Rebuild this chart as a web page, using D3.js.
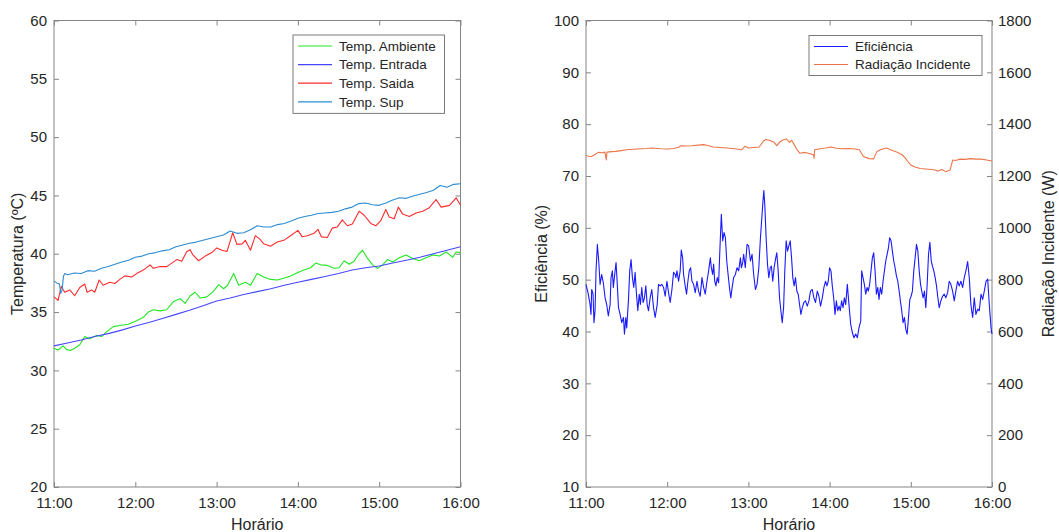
<!DOCTYPE html>
<html>
<head>
<meta charset="utf-8">
<script src="https://cdn.jsdelivr.net/npm/d3@7"></script>
<style>
  body { margin: 0; background: #fff; }
  svg { display: block; }
</style>
</head>
<body>
<svg id="chart" width="1059" height="532"></svg>
<script>
// ---- data: time in minutes after 11:00 ----
const hourMinutes = [0, 60, 120, 180, 240, 300];
const hourLabels = ["11:00", "12:00", "13:00", "14:00", "15:00", "16:00"];
const tempTicks = [20, 25, 30, 35, 40, 45, 50, 55, 60];
const effTicks = [10, 20, 30, 40, 50, 60, 70, 80, 90, 100];
const radTicks = [0, 200, 400, 600, 800, 1000, 1200, 1400, 1600, 1800];

const tempSeriesNames = ["Temp. Ambiente", "Temp. Entrada", "Temp. Saida", "Temp. Sup"];
const rightSeriesNames = ["Eficiência", "Radiação Incidente"];

// Temp. Ambiente (°C)
const tempAmbiente = [
  [0,31.9],[3,31.75],[6.7,32.1],[9.1,31.8],[12.1,31.7],[15.3,31.9],[19,32.2],[22.7,32.9],
  [26.4,32.7],[31.4,33.0],[35.1,32.9],[38.8,33.3],[43.7,33.75],[48.6,33.85],[54.8,33.95],
  [61,34.25],[65.9,34.55],[69.6,35.0],[73.3,35.2],[78.3,35.1],[83.2,35.2],[88.1,35.9],
  [93.1,36.15],[96.8,35.75],[100.5,36.4],[104.2,36.7],[107.9,36.2],[112.8,36.3],[117.8,36.8],
  [121.5,37.35],[125.2,37.0],[128.1,37.3],[132.6,38.3],[136.3,37.3],[141.2,37.55],[145,37.3],
  [149.9,38.3],[154.8,38.0],[159.8,37.8],[164.7,37.75],[169.6,37.9],[174.6,38.1],[180,38.4],
  [184.4,38.6],[189.4,38.8],[193.1,39.2],[196.8,39.05],[201.7,39.0],[206.7,38.75],[210.4,38.8],
  [214.1,39.4],[217.8,39.1],[221.5,39.35],[224.4,39.9],[227.7,40.3],[231.4,39.6],[235.1,39.05],
  [238.8,38.75],[242.5,39.05],[246.2,39.5],[249.9,39.3],[254.8,39.65],[259.8,39.9],[264.7,39.6],
  [269.6,39.4],[274.6,39.65],[279.5,39.9],[284.4,39.8],[289.4,40.15],[294.3,39.7],[296.8,40.15],
  [300,40.1]
];

// Temp. Entrada (°C)
const tempEntrada = [
  [0,32.1],[10,32.35],[20,32.6],[30,32.9],[40,33.15],[50,33.45],[60,33.8],[70,34.1],
  [80,34.45],[90,34.8],[100,35.15],[110,35.55],[120,35.95],[130,36.2],[140,36.5],[150,36.75],
  [160,37.0],[170,37.3],[180,37.55],[190,37.8],[200,38.05],[210,38.3],[220,38.6],[230,38.8],
  [240,38.95],[250,39.2],[260,39.45],[270,39.7],[280,40.0],[290,40.3],[300,40.6]
];

// Temp. Saida (°C)
const tempSaida = [
  [0,36.3],[3,36.0],[5.4,37.2],[7.9,36.7],[11.6,36.9],[15.3,36.4],[19,37.1],[22.7,37.4],
  [24.4,36.7],[27.7,36.9],[30.1,36.7],[33.3,37.75],[36.3,37.3],[41.2,37.55],[44.9,37.45],
  [48.6,37.8],[52.3,38.1],[57.3,38.0],[61,38.3],[65.9,38.6],[70.9,39.05],[73.3,38.75],
  [78.3,38.9],[83.2,38.9],[86.9,39.2],[90.6,39.5],[94.3,39.35],[98,40.2],[100.5,40.35],
  [102.5,39.9],[106.7,39.4],[111.6,39.8],[116.5,40.1],[120.2,40.5],[124,40.3],[127.7,40.2],
  [131.9,41.8],[135,40.8],[138.8,40.85],[141.2,41.15],[145,40.3],[148.6,41.55],[151.9,41.25],
  [154.8,40.85],[159.8,40.65],[164.7,41.0],[169.6,41.15],[174.6,41.55],[180,42.0],[183.2,41.45],
  [186.9,41.55],[191.9,41.75],[194.8,42.1],[197.3,41.45],[201.7,41.4],[205.4,42.2],[209.1,42.3],
  [212.8,42.9],[216.5,42.4],[220.2,42.55],[225.2,43.65],[228.9,43.3],[233.8,42.6],[237.5,42.4],
  [241.2,42.85],[244.9,43.8],[247.4,43.15],[251.1,43.0],[254.1,44.0],[257.3,43.4],[262.2,43.2],
  [267.2,43.5],[272.1,43.65],[277,43.95],[282,44.65],[285.7,44.0],[291.9,44.15],[296.8,44.8],
  [300,44.15]
];

// Temp. Sup (°C)
const tempSup = [
  [0,37.65],[2,37.5],[4,37.4],[5,36.6],[6,36.9],[7,38.1],[8,38.3],[10,38.2],[15,38.35],
  [20,38.3],[25,38.55],[30,38.5],[35,38.75],[40,38.9],[45,39.1],[50,39.3],[55,39.45],
  [60,39.7],[65,39.8],[70,40.0],[75,40.1],[80,40.25],[85,40.35],[90,40.6],[95,40.75],
  [100,40.9],[105,41.0],[110,41.15],[115,41.3],[120,41.45],[125,41.6],[130,41.95],[135,41.75],
  [140,41.8],[145,42.05],[150,42.4],[155,42.3],[160,42.3],[165,42.5],[170,42.6],[175,42.8],
  [180,43.05],[185,43.2],[190,43.3],[195,43.45],[200,43.5],[205,43.55],[210,43.65],[215,43.85],
  [220,44.0],[225,44.3],[230,44.35],[235,44.2],[240,44.15],[245,44.35],[250,44.6],[255,44.8],
  [260,44.75],[265,44.95],[270,45.1],[275,45.25],[280,45.45],[285,45.85],[290,45.7],[295,45.95],
  [300,46.0]
];

// Eficiência (%)
const eficiencia = [
  [0,49.1],[1.7,47.2],[3,45.2],[3.7,43.3],[4.2,48.1],[5.2,47.3],[5.9,41.7],[6.7,44],[7.4,51.7],
  [8.4,56.8],[9.4,53.6],[10.4,49.1],[11.6,51],[12.8,49.4],[14.1,46.5],[15.3,45.2],[16.5,43],
  [17.8,45.2],[18.5,50.4],[19.5,51.7],[20.2,48.5],[21.5,51.7],[22.2,53.3],[23,49.7],[24,44.6],
  [25.2,43.3],[26.4,41.7],[27.7,42.7],[28.4,39.5],[29.4,42.7],[30.1,40.7],[31.4,46.2],[32.3,51.7],
  [33.3,53.9],[34.3,50.4],[35.3,48.5],[36.3,51.4],[37.3,47.2],[38.3,44],[39.3,47.2],[40.2,45.2],
  [41.2,48.5],[42.2,45.6],[43.2,46.5],[44.2,48.8],[45.2,45.2],[46.2,44],[47.4,46.5],[48.6,48.1],
  [49.9,44.6],[51.1,42.7],[52.6,45.2],[53.6,49.1],[54.8,48.8],[56,49.1],[57.3,48.5],[58.5,46.8],
  [59.8,49.7],[61,47.5],[62.2,45.6],[63.5,48.1],[64.7,51.4],[65.9,51],[66.4,50.4],[67.2,51.7],
  [68.4,49.7],[69.6,51.7],[70.4,55.7],[71.4,54.2],[72.1,51],[73.3,48.8],[74.3,47.2],[75.3,49.7],
  [76.3,51.7],[77.3,52.3],[78.3,49.7],[79.5,49.1],[80.7,47.5],[82,49.7],[83.2,47.8],[84.4,46.8],
  [85.7,50.4],[86.9,48.5],[88.1,47.2],[89.4,49.7],[90.6,51.7],[91.9,54.2],[92.6,52.3],[93.6,51],
  [94.3,53],[95.1,49.7],[96,48.8],[97,50.4],[98,49.4],[99,56.2],[100,62.6],[101,57.5],[102,59.1],
  [103,58.1],[104,53.6],[105,51],[106,48.5],[107,46.5],[108,48.5],[109.1,50.4],[110.4,51],
  [111.6,52.3],[112.8,51.7],[114.1,54.2],[114.8,52.3],[115.8,53.3],[116.5,54.9],[117.7,52.3],
  [119,56.8],[120.2,56.5],[121.5,53.6],[122.7,54.9],[123.9,51],[125.2,48.1],[126.4,49.1],
  [127.7,52.3],[128.9,58.1],[129.6,60.7],[130.6,64.5],[131.4,67.2],[132.1,64.5],[133.1,58.1],
  [134.1,53],[135.1,50.4],[136.1,52.3],[137,52.6],[138,49.7],[139,52.3],[140,53.9],[141,55.2],
  [142,51.7],[143,46.5],[144,44],[145,41.7],[146,44.6],[146.9,51.7],[147.9,57.5],[148.9,55.5],
  [149.9,56.5],[150.9,57.5],[151.9,54.2],[152.8,50.4],[153.8,48.8],[154.8,50.4],[155.8,47.8],
  [156.8,47.2],[157.8,45.2],[158.8,43.3],[159.8,44.6],[161,45.6],[162.2,45.9],[163.5,44.9],
  [164.7,45.9],[165.9,47.8],[167.2,48.1],[168.4,46.5],[169.6,45.6],[170.9,47.8],[172.1,46.8],
  [173.3,44.9],[174.6,46.5],[175.8,48.5],[177,49.7],[178,48.8],[179,49.7],[180,52.3],[181,51.7],
  [182,48.8],[183,46.5],[184,43.3],[185,45.9],[186,44],[187,44.9],[187.9,44],[188.9,45.9],
  [189.9,44.6],[190.9,46.5],[191.9,45.2],[193.1,49.1],[194.3,45.2],[195.6,41.4],[196.8,39.8],
  [198,38.8],[199.3,39.5],[200.5,38.8],[201.7,40.7],[203,42],[203.7,51.7],[204.7,50.4],
  [205.7,49.1],[206.7,47.2],[207.7,48.5],[208.6,47.8],[209.6,49.1],[210.6,51.7],[211.6,54.2],
  [212.6,55.2],[213.6,51.7],[214.6,47.2],[215.6,48.5],[216.5,46.2],[217.5,48.5],[218.5,47.2],
  [219.5,49.7],[220.5,51.7],[221.5,53.6],[222.5,54.9],[223.5,56.2],[224.4,58.1],[225.4,57.5],
  [226.4,55.5],[227.4,53.6],[228.4,52.3],[229.4,50.7],[230.4,49.7],[231.4,47.8],[232.3,45.9],
  [233.3,44],[234.3,41.7],[235.3,42.7],[236.3,40.4],[237.3,39.5],[238.3,42.7],[239.3,46.2],
  [240.2,46.8],[241.2,47.8],[242.2,51.7],[243.2,54.2],[244.2,56.8],[245.2,55.5],[246.2,51.7],
  [247.2,49.1],[248.1,47.8],[249.1,46.5],[250.1,47.8],[251.1,44.6],[252.1,49.1],[253.1,54.9],
  [254.1,57.2],[255.1,53.6],[256,52.6],[257,51.7],[258,50.4],[259,48.8],[260,46.5],[261,44.6],
  [262.2,45.9],[263.5,46.8],[264.7,47.2],[265.9,46.5],[267.2,47.5],[268.4,49.7],[269.6,49.1],
  [270.9,47.8],[272.1,45.9],[273.3,47.8],[274.6,49.7],[275.8,48.8],[277,49.7],[278.3,48.5],
  [279.5,50.4],[280.7,51.7],[282,53.5],[283.2,50.4],[284.4,45.2],[285.7,42.7],[286.9,46.5],
  [288.1,43.3],[289.4,44.3],[290.6,44],[291.9,47.2],[293.1,46.2],[294.3,47.8],[295.6,49.7],
  [296.8,50.1],[298,45.2],[299.3,40.7],[300,39.5]
];

// Radiação Incidente (W)
const radiacao = [
  [0,1279],[2,1276],[4,1275],[7,1284],[9,1291],[12,1290],[14,1292],[15,1262],[15.5,1292],
  [19,1294],[22,1295],[26,1298],[30,1301],[35,1303],[41,1305],[45,1306],[49,1308],[55,1305],
  [60,1304],[65,1306],[69,1312],[70,1317],[74,1316],[78,1317],[83,1319],[87,1321],[90,1318],
  [94,1312],[99,1310],[104,1308],[110,1305],[115,1301],[117.5,1315],[120,1308],[124,1310],
  [128,1312],[131,1334],[133,1341],[136,1337],[139,1330],[141,1317],[143,1330],[145,1338],
  [148,1343],[150.5,1330],[152,1338],[154,1320],[156,1301],[158,1288],[162,1291],[165,1287],
  [168,1282],[168.5,1269],[169,1301],[173,1305],[177,1308],[181,1312],[185,1307],[189,1305],
  [194,1306],[199,1304],[202,1301],[205,1275],[209,1267],[212.5,1266],[215,1295],[218,1302],
  [222,1308],[226,1299],[230,1292],[233.5,1282],[236,1269],[238,1255],[240,1242],[243,1235],
  [247,1229],[251,1227],[255,1225],[258,1223],[260,1219],[263,1225],[266,1216],[269,1223],
  [271,1262],[273,1260],[276,1265],[280,1264],[284,1267],[288,1265],[292,1265],[296,1262],
  [300,1258]
];

// ---- layout ----
const FONT = '"Liberation Sans", Arial, Helvetica, sans-serif';
const AXIS = "#858585";
const TEXT = "#262626";
const plotTop = 20.5, plotBottom = 487;
const leftPanel = { x0: 54, x1: 460.5 };
const rightPanel = { x0: 586, x1: 992 };

const tempColors = ["#22e622", "#4646ff", "#ff2b2b", "#2c8bd1"];
const effColor = "#1a1aff";
const radColor = "#ec7448";

const svg = d3.select("#chart");

const xL = d3.scaleLinear().domain([0, 300]).range([leftPanel.x0, leftPanel.x1]);
const xR = d3.scaleLinear().domain([0, 300]).range([rightPanel.x0, rightPanel.x1]);
const yTemp = d3.scaleLinear().domain([20, 60]).range([plotBottom, plotTop]);
const yEff = d3.scaleLinear().domain([10, 100]).range([plotBottom, plotTop]);
const yRad = d3.scaleLinear().domain([0, 1800]).range([plotBottom, plotTop]);

const plainNumber = d3.format("d");

function finishAxis(g, showLabels) {
  g.select(".domain").remove();
  g.attr("font-size", 15).attr("font-family", FONT);
  g.selectAll(".tick line").attr("stroke", AXIS).attr("stroke-width", 1);
  if (showLabels) g.selectAll(".tick text").attr("fill", TEXT);
  else g.selectAll(".tick text").remove();
}

function drawFrame(p, x, yLeft, yRight, leftTicks, rightTicks, showRightLabels) {
  const fmtTime = (d) => hourLabels[hourMinutes.indexOf(d)];
  svg.append("g").attr("transform", `translate(0,${plotBottom})`)
    .call(d3.axisBottom(x).tickValues(hourMinutes).tickFormat(fmtTime).tickSizeInner(-5).tickSizeOuter(0).tickPadding(10.5))
    .call(g => finishAxis(g, true));
  svg.append("g").attr("transform", `translate(0,${plotTop})`)
    .call(d3.axisTop(x).tickValues(hourMinutes).tickSizeInner(-5).tickSizeOuter(0))
    .call(g => finishAxis(g, false));
  svg.append("g").attr("transform", `translate(${p.x0},0)`)
    .call(d3.axisLeft(yLeft).tickValues(leftTicks).tickFormat(plainNumber).tickSizeInner(-5).tickSizeOuter(0).tickPadding(7))
    .call(g => finishAxis(g, true));
  svg.append("g").attr("transform", `translate(${p.x1},0)`)
    .call(d3.axisRight(yRight).tickValues(rightTicks).tickFormat(plainNumber).tickSizeInner(-5).tickSizeOuter(0).tickPadding(6))
    .call(g => finishAxis(g, showRightLabels));
  svg.append("rect")
    .attr("x", p.x0).attr("y", plotTop)
    .attr("width", p.x1 - p.x0).attr("height", plotBottom - plotTop)
    .attr("fill", "none").attr("stroke", AXIS).attr("stroke-width", 1);
}

function drawSeries(data, x, y, color, width) {
  svg.append("path")
    .datum(data)
    .attr("fill", "none")
    .attr("stroke", color)
    .attr("stroke-width", width)
    .attr("stroke-linejoin", "round")
    .attr("d", d3.line().x(d => x(d[0])).y(d => y(d[1])));
}

function axisTitle(text, x, y, rotate) {
  svg.append("text")
    .attr("transform", `translate(${x},${y})${rotate ? " rotate(-90)" : ""}`)
    .attr("text-anchor", "middle")
    .attr("dy", "0.35em")
    .attr("font-family", FONT)
    .attr("font-size", 16)
    .attr("fill", TEXT)
    .text(text);
}

function legend(x, y, w, names, colors, rowGap) {
  const g = svg.append("g");
  g.append("rect")
    .attr("x", x).attr("y", y).attr("width", w)
    .attr("height", rowGap * names.length + 4)
    .attr("fill", "#fff").attr("stroke", "#7a7a7a").attr("stroke-width", 1);
  names.forEach((n, i) => {
    const cy = y + 11 + i * rowGap;
    g.append("line")
      .attr("x1", x + 5).attr("x2", x + 39)
      .attr("y1", cy).attr("y2", cy)
      .attr("stroke", colors[i]).attr("stroke-width", 1.2);
    g.append("text")
      .attr("x", x + 46).attr("y", cy).attr("dy", "0.35em")
      .attr("font-family", FONT).attr("font-size", 13.5)
      .attr("fill", TEXT)
      .text(n);
  });
}

// ---- left panel: temperatures ----
drawFrame(leftPanel, xL, yTemp, yTemp, tempTicks, tempTicks, false);
[tempAmbiente, tempEntrada, tempSaida, tempSup].forEach((s, i) =>
  drawSeries(s, xL, yTemp, tempColors[i], 1.1));
axisTitle("Temperatura (ºC)", 17, (plotTop + plotBottom) / 2, true);
axisTitle("Horário", (leftPanel.x0 + leftPanel.x1) / 2, 524, false);
legend(293, 35, 151.5, tempSeriesNames, tempColors, 18.6);

// ---- right panel: efficiency and incident radiation ----
drawFrame(rightPanel, xR, yEff, yRad, effTicks, radTicks, true);
drawSeries(eficiencia, xR, yEff, effColor, 1.1);
drawSeries(radiacao, xR, yRad, radColor, 1.1);
axisTitle("Eficiência (%)", 541, (plotTop + plotBottom) / 2, true);
axisTitle("Radiação Incidente (W)", 1048, (plotTop + plotBottom) / 2, true);
axisTitle("Horário", (rightPanel.x0 + rightPanel.x1) / 2, 524, false);
legend(809, 35.5, 173, rightSeriesNames, [effColor, radColor], 18);
</script>
</body>
</html>
